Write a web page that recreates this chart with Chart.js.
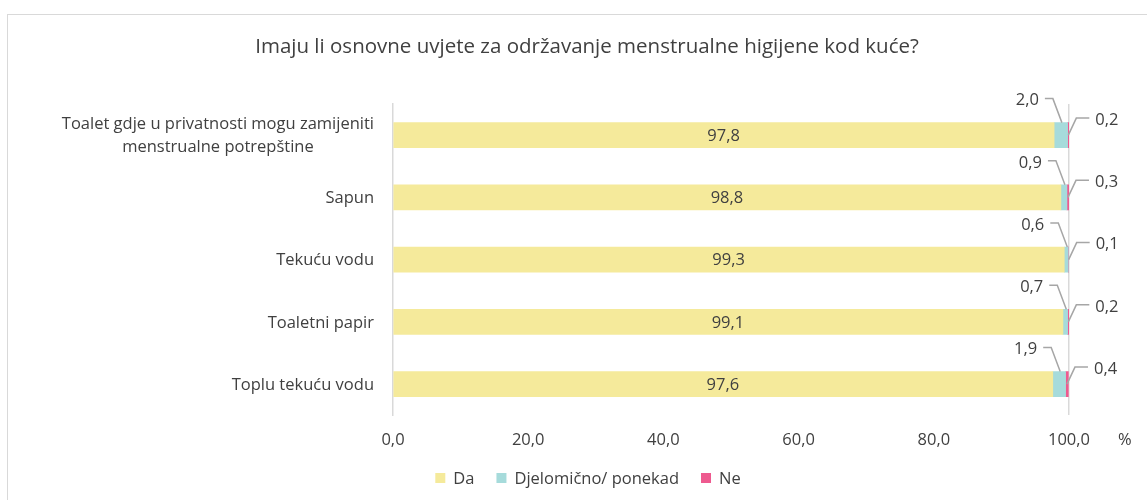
<!DOCTYPE html>
<html>
<head>
<meta charset="utf-8">
<script src="https://cdn.jsdelivr.net/npm/chart.js@4"></script>
<style>
  html,body{margin:0;padding:0;background:#fff;}
  #frame{position:absolute;left:7px;top:14px;width:1145px;height:490px;border-left:1.5px solid #d9d9d9;border-top:1.5px solid #d9d9d9;}
  #wrap{position:absolute;left:0;top:0;width:1147px;height:500px;}
</style>
</head>
<body>
<div id="frame"></div>
<div id="wrap"><canvas id="c"></canvas></div>
<script>
var titleText = 'Imaju li osnovne uvjete za održavanje menstrualne higijene kod kuće?'
var categories = [
  ['Toalet gdje u privatnosti mogu zamijeniti', 'menstrualne potrepštine'],
  'Sapun',
  'Tekuću vodu',
  'Toaletni papir',
  'Toplu tekuću vodu'
]
var daValues = [97.8, 98.8, 99.3, 99.1, 97.6]
var djelValues = [2.0, 0.9, 0.6, 0.7, 1.9]
var neValues = [0.2, 0.3, 0.1, 0.2, 0.4]
var seriesNames = ['Da', 'Djelomično/ ponekad', 'Ne']
var seriesColors = ['#f5ea9b', '#a6dbdb', '#ee5a8f']

var FONT = '"Open Sans", Lato, sans-serif'
var TEXT = '#404040'
var LSIZE = 16.5
var fmt = function(v){ return v.toFixed(1).replace('.', ',') }

// title drawn in the space reserved by layout padding
var titlePlugin = {
  id: 'titleText',
  afterDraw: function(chart){
    var ctx = chart.ctx
    ctx.save()
    ctx.font = '20.5px ' + FONT
    ctx.fillStyle = TEXT
    ctx.textAlign = 'center'
    ctx.textBaseline = 'middle'
    ctx.fillText(titleText, 587, 47)
    ctx.restore()
  }
}

// legend centred under the chart, built from the datasets
var legendPlugin = {
  id: 'legendRow',
  afterDraw: function(chart){
    var ctx = chart.ctx
    ctx.save()
    ctx.font = LSIZE + 'px ' + FONT
    ctx.textBaseline = 'middle'
    ctx.textAlign = 'left'
    var items = chart.data.datasets.map(function(d){ return { t: d.label, c: d.backgroundColor, w: ctx.measureText(d.label).width } })
    var total = 0
    items.forEach(function(it, i){ total += 18 + it.w + (i ? 22 : 0) })
    var x = 588 - total / 2, y = 478
    items.forEach(function(it){
      ctx.fillStyle = it.c
      ctx.fillRect(x, y - 5, 10, 10)
      ctx.fillStyle = TEXT
      ctx.fillText(it.t, x + 18, y + 1)
      x += 18 + it.w + 22
    })
    ctx.restore()
  }
}

// y labels drawn like Excel: block right aligned, lines centred to each other
var yLabelsPlugin = {
  id: 'yLabels',
  afterDraw: function(chart){
    var ctx = chart.ctx, y = chart.scales.y
    var right = chart.chartArea.left - 19
    ctx.save()
    ctx.font = LSIZE + 'px ' + FONT
    ctx.fillStyle = TEXT
    ctx.textBaseline = 'middle'
    ctx.textAlign = 'center'
    categories.forEach(function(lab, i){
      var lines = Array.isArray(lab) ? lab : [lab]
      var w = 0
      lines.forEach(function(l){ w = Math.max(w, ctx.measureText(l).width) })
      var cy = y.getPixelForValue(i)
      var lh = 23
      var y0 = cy + 1 - (lines.length - 1) * lh / 2
      lines.forEach(function(l, k){ ctx.fillText(l, right - w / 2, y0 + k * lh) })
    })
    ctx.restore()
  }
}

var valueLabelsPlugin = {
  id: 'valueLabels',
  afterDatasetsDraw: function(chart){
    var ctx = chart.ctx, x = chart.scales.x, y = chart.scales.y
    ctx.save()
    ctx.font = LSIZE + 'px ' + FONT
    ctx.fillStyle = TEXT
    ctx.textBaseline = 'middle'
    ctx.strokeStyle = '#a6a6a6'
    ctx.lineWidth = 1.5
    var half = 12.5
    categories.forEach(function(c, i){
      var cy = y.getPixelForValue(i)
      // Da, centred in bar
      ctx.textAlign = 'center'
      ctx.fillText(fmt(daValues[i]), x.getPixelForValue(daValues[i] / 2), cy + 1)
      // Djelomicno, above left with leader
      var mx = x.getPixelForValue(daValues[i] + djelValues[i] / 2)
      var top = cy - half
      ctx.beginPath()
      ctx.moveTo(mx + 1, top)
      ctx.lineTo(mx - 8, top - 24)
      ctx.lineTo(mx - 16, top - 24)
      ctx.stroke()
      ctx.textAlign = 'right'
      ctx.fillText(fmt(djelValues[i]), mx - 22, top - 22)
      // Ne, right with leader
      var nx = x.getPixelForValue(daValues[i] + djelValues[i] + neValues[i] / 2)
      ctx.beginPath()
      ctx.moveTo(nx, cy)
      ctx.lineTo(nx + 8, cy - 17)
      ctx.lineTo(nx + 21, cy - 17)
      ctx.stroke()
      ctx.textAlign = 'left'
      ctx.fillText(fmt(neValues[i]), nx + 27, cy - 15)
    })
    // unit
    ctx.textAlign = 'left'
    ctx.fillText('%', 1118, chart.chartArea.bottom + 25)
    ctx.restore()
  }
}

var valueSets = [daValues, djelValues, neValues]
var datasets = seriesNames.map(function(n, k){
  return {
    label: n,
    data: valueSets[k],
    backgroundColor: seriesColors[k],
    borderWidth: 0,
    barThickness: 25
  }
})

new Chart(document.getElementById('c'), {
  type: 'bar',
  data: { labels: categories, datasets: datasets },
  plugins: [titlePlugin, legendPlugin, yLabelsPlugin, valueLabelsPlugin],
  options: {
    indexAxis: 'y',
    responsive: true,
    maintainAspectRatio: false,
    animation: false,
    layout: { padding: { left: 107, right: 78, top: 104, bottom: 35 } },
    plugins: {
      title: { display: false },
      legend: { display: false },
      tooltip: { enabled: false }
    },
    scales: {
      x: {
        stacked: true,
        min: 0,
        max: 100,
        ticks: {
          stepSize: 20,
          color: TEXT,
          font: { family: FONT, size: LSIZE },
          padding: 15,
          callback: function(v){ return fmt(v) }
        },
        grid: {
          drawTicks: false,
          lineWidth: 1.5,
          color: function(c){ return c.tick && c.tick.value === 100 ? '#d9d9d9' : 'rgba(0,0,0,0)' }
        },
        border: { display: false }
      },
      y: {
        stacked: true,
        ticks: { display: false },
        grid: { display: false, drawTicks: false },
        border: { display: true, color: '#d9d9d9', width: 1.5 },
        afterFit: function(s){ s.width = 286 }
      }
    }
  }
})
</script>
</body>
</html>
